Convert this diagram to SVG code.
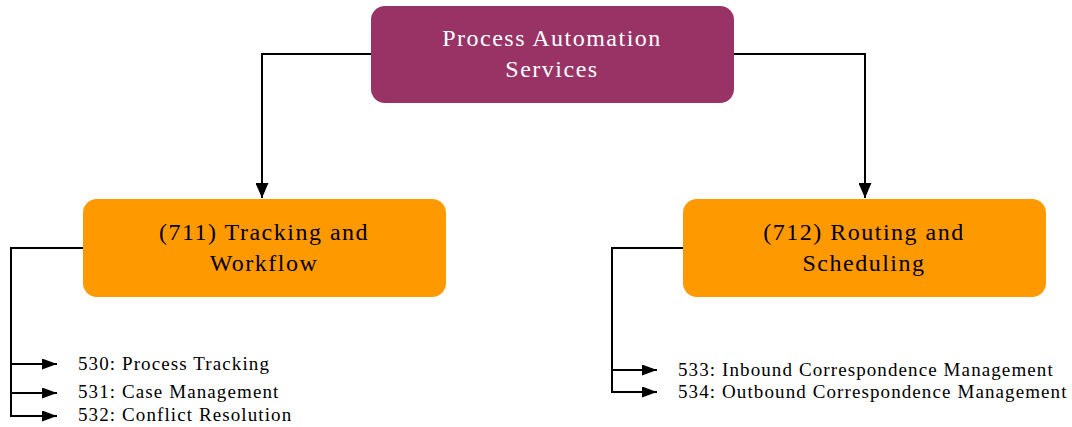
<svg xmlns="http://www.w3.org/2000/svg" width="1072" height="427" viewBox="0 0 1072 427">
  <style>
    .box-top { fill: #993366; }
    .box-sub { fill: #FF9900; }
    .title { font-family: "Liberation Serif", "Times New Roman", serif; font-size: 24px; text-anchor: middle; letter-spacing: 1.5px; }
    .title-light { fill: #ffffff; }
    .title-dark { fill: #000000; }
    .item { font-family: "Liberation Serif", "Times New Roman", serif; font-size: 19px; letter-spacing: 1.1px; fill: #000000; }
    .conn { fill: none; stroke: #000000; stroke-width: 2; }
  </style>
  <defs>
    <!-- arrowhead for the drops into the two service boxes -->
    <marker id="arrow" viewBox="0 0 10 10" refX="10" refY="5" markerWidth="15" markerHeight="13" markerUnits="userSpaceOnUse" orient="auto" preserveAspectRatio="none">
      <path d="M0,0 L10,5 L0,10 z" fill="#000000"/>
    </marker>
    <!-- arrowhead for the item list branches -->
    <marker id="arrow-small" viewBox="0 0 10 10" refX="10" refY="5" markerWidth="15" markerHeight="11" markerUnits="userSpaceOnUse" orient="auto" preserveAspectRatio="none">
      <path d="M0,0 L10,5 L0,10 z" fill="#000000"/>
    </marker>
  </defs>

  <rect width="1072" height="427" fill="#ffffff"/>

  <g id="connectors">
    <path class="conn" d="M371,54 H262 V198" marker-end="url(#arrow)"/>
    <path class="conn" d="M734,54 H865 V198" marker-end="url(#arrow)"/>
    <path class="conn" d="M83,248 H11 V416"/>
    <path class="conn" d="M11,364 H57" marker-end="url(#arrow-small)"/>
    <path class="conn" d="M11,393 H57" marker-end="url(#arrow-small)"/>
    <path class="conn" d="M10,416 H57" marker-end="url(#arrow-small)"/>
    <path class="conn" d="M683,248 H612 V392"/>
    <path class="conn" d="M612,370 H657" marker-end="url(#arrow-small)"/>
    <path class="conn" d="M611,392 H657" marker-end="url(#arrow-small)"/>
  </g>

  <g id="process-automation-services">
    <rect class="box-top" x="371" y="6" width="363" height="97" rx="14"/>
    <text class="title title-light" x="552" y="46">Process Automation</text>
    <text class="title title-light" x="552" y="77">Services</text>
  </g>

  <g id="tracking-and-workflow">
    <rect class="box-sub" x="83" y="199" width="363" height="98" rx="14"/>
    <text class="title title-dark" x="264" y="240">(711) Tracking and</text>
    <text class="title title-dark" x="264" y="271">Workflow</text>
    <text class="item" x="78" y="370">530: Process Tracking</text>
    <text class="item" x="78" y="398">531: Case Management</text>
    <text class="item" x="78" y="421">532: Conflict Resolution</text>
  </g>

  <g id="routing-and-scheduling">
    <rect class="box-sub" x="683" y="199" width="363" height="98" rx="14"/>
    <text class="title title-dark" x="864" y="240">(712) Routing and</text>
    <text class="title title-dark" x="864" y="271">Scheduling</text>
    <text class="item" x="678" y="376">533: Inbound Correspondence Management</text>
    <text class="item" x="678" y="398">534: Outbound Correspondence Management</text>
  </g>
</svg>
